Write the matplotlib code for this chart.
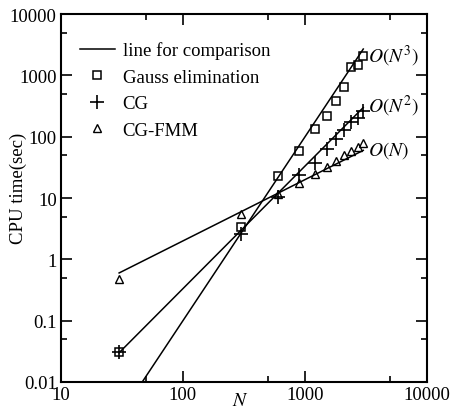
import numpy as np
import matplotlib.pyplot as plt
from matplotlib.lines import Line2D
from matplotlib.ticker import FixedLocator, FuncFormatter, NullFormatter

plt.rcParams['font.family'] = ['Liberation Serif', 'DejaVu Serif']
plt.rcParams['mathtext.fontset'] = 'stix'

# data
N = [30, 300, 600, 900, 1200, 1500, 1800, 2100, 2400, 2700, 3000]
gauss = [0.031, 3.4, 23, 59, 133, 219, 377, 640, 1350, 1470, 2100]
cg = [0.031, 2.6, 10.5, 23.5, 38, 63, 91, 128, 171, 205, 262]
cg_fmm = [0.48, 5.4, 11.5, 17.5, 24.5, 32.7, 40.4, 50, 59, 67, 79]

# comparison lines
N_line = [30, 3000]
line_n3 = [1e-7 * n**3 for n in N_line]
line_n2 = [3.33e-5 * n**2 for n in N_line]
line_n1 = [0.02 * n for n in N_line]

fig = plt.figure(figsize=(4.51, 4.10), dpi=100)
ax = fig.add_axes([0.135, 0.066, 0.812, 0.897])

ax.plot(N_line, line_n3, 'k-', lw=1.1)
ax.plot(N_line, line_n2, 'k-', lw=1.1)
ax.plot(N_line, line_n1, 'k-', lw=1.1)

ax.plot(N, gauss, 's', mfc='none', mec='k', ms=6, mew=1.1)
ax.plot(N, cg, '+', mec='k', ms=10, mew=1.2)
ax.plot(N, cg_fmm, '^', mfc='none', mec='k', ms=6, mew=1.0)

ax.set_xscale('log')
ax.set_yscale('log')
ax.set_xlim(10, 10000)
ax.set_ylim(0.01, 10000)

xt = [10, 100, 1000, 10000]
yt = [0.01, 0.1, 1, 10, 100, 1000, 10000]
ax.xaxis.set_major_locator(FixedLocator(xt))
ax.yaxis.set_major_locator(FixedLocator(yt))
ax.xaxis.set_minor_locator(FixedLocator([50, 500, 5000]))
ax.yaxis.set_minor_locator(FixedLocator([0.05, 0.5, 5, 50, 500, 5000]))
fmt = FuncFormatter(lambda v, p: '%g' % v)
ax.xaxis.set_major_formatter(fmt)
ax.yaxis.set_major_formatter(fmt)
ax.xaxis.set_minor_formatter(NullFormatter())
ax.yaxis.set_minor_formatter(NullFormatter())
ax.tick_params(which='both', direction='in', top=True, right=True, labelsize=13.5, width=1.2)
ax.tick_params(which='major', length=8, pad=3)
ax.tick_params(which='minor', length=4)
for s in ax.spines.values():
    s.set_linewidth(1.5)

ax.set_xlabel('$N$', fontsize=14)
ax.xaxis.set_label_coords(0.489, -0.027)
ax.set_ylabel('CPU time(sec)', fontsize=13.5)
ax.yaxis.set_label_coords(-0.092, 0.53)

ax.text(3300, 2100, '$O(N^3)$', fontsize=14, va='center', ha='left')
ax.text(3300, 320, '$O(N^2)$', fontsize=14, va='center', ha='left')
ax.text(3300, 62, '$O(N)$', fontsize=14, va='center', ha='left')

handles = [
    Line2D([], [], color='k', lw=1.1),
    Line2D([], [], ls='none', marker='s', mfc='none', mec='k', ms=6, mew=1.1),
    Line2D([], [], ls='none', marker='+', mec='k', ms=10, mew=1.2),
    Line2D([], [], ls='none', marker='^', mfc='none', mec='k', ms=6, mew=1.0),
]
labels = ['line for comparison', 'Gauss elimination', 'CG', 'CG-FMM']
ax.legend(handles, labels, loc='upper left', bbox_to_anchor=(0.015, 0.962),
          frameon=False, fontsize=13.5, handlelength=1.9, handletextpad=0.4,
          labelspacing=0.5, borderpad=0.2)

fig.savefig('out.png', dpi=100)
